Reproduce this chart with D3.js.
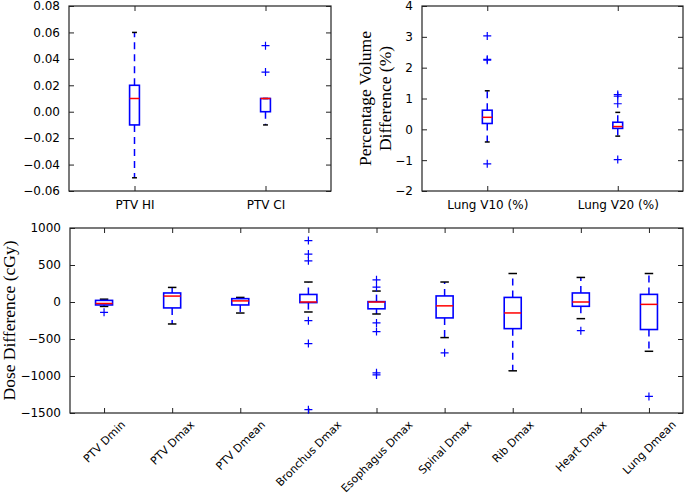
<!DOCTYPE html>
<html><head><meta charset="utf-8">
<script src="https://cdn.jsdelivr.net/npm/d3@7"></script>
<style>
html,body{margin:0;padding:0;background:#fff;}
svg{display:block;}
.tick text{font-family:"DejaVu Sans",sans-serif;}
</style>
</head><body>
<svg id="chart" width="685" height="502"></svg>
<script>
// ---------- DATA ----------
// Panel A (top-left)
const catsA = ["PTV HI", "PTV CI"];
const q1A = [-0.01, 0.0];
const medA = [0.01, 0.01];
const q3A = [0.02, 0.01];
const loA = [-0.05, -0.01];
const hiA = [0.06, 0.01];
const fliersA = [[], [0.03, 0.05]];
const ticksA = [-0.06, -0.04, -0.02, 0.0, 0.02, 0.04, 0.06, 0.08];

// Panel B (top-right)
const catsB = ["Lung V10 (%)", "Lung V20 (%)"];
const q1B = [0.19, 0.03];
const medB = [0.39, 0.09];
const q3B = [0.62, 0.23];
const loB = [-0.41, -0.22];
const hiB = [1.25, 0.55];
const fliersB = [[3.03, 2.27, 2.24, -1.12], [1.13, 1.08, 0.83, -0.98]];
const ticksB = [-2, -1, 0, 1, 2, 3, 4];

// Panel C (bottom)
const catsC = ["PTV Dmin", "PTV Dmax", "PTV Dmean", "Bronchus Dmax", "Esophagus Dmax",
               "Spinal Dmax", "Rib Dmax", "Heart Dmax", "Lung Dmean"];
const q1C = [-40, -80, -40, -8, -92, -215, -360, -58, -372];
const medC = [-20, 80, 15, 0, 0, -52, -148, 0, -32];
const q3C = [22, 122, 45, 102, 5, 82, 62, 122, 103];
const loC = [-60, -297, -149, -135, -162, -481, -930, -225, -666];
const hiC = [38, 197, 62, 270, 148, 270, 385, 332, 385];
const fliersC = [[-140], [], [], [830, 647, 557, -252, -562, -1455],
                 [300, 200, -283, -400, -957, -985], [-687], [], [-387], [-1276]];
const ticksC = [-1500, -1000, -500, 0, 500, 1000];

// ---------- DRAW ----------
const svg = d3.select("#chart");
const BLUE = "#0000ff", RED = "#ff0000";

function panel(o) {
  const n = o.cats.length;
  const x = d3.scaleLinear().domain([0.5, n + 0.5]).range([o.x0, o.x1]);
  const y = d3.scaleLinear().domain(o.domain).range([o.y1, o.y0]);
  const g = svg.append("g");
  const pos = d3.range(1, n + 1);
  const tickLen = 5;

  // axes (ticks inward on all four sides)
  const yl = g.append("g").attr("transform", `translate(${o.x0},0)`)
    .call(d3.axisLeft(y).tickValues(o.ticks).tickFormat(o.fmt).tickSizeInner(-tickLen).tickSizeOuter(0).tickPadding(tickLen + 4));
  const yr = g.append("g").attr("transform", `translate(${o.x1},0)`)
    .call(d3.axisRight(y).tickValues(o.ticks).tickFormat("").tickSizeInner(-tickLen).tickSizeOuter(0));
  const xb = g.append("g").attr("transform", `translate(0,${o.y1})`)
    .call(d3.axisBottom(x).tickValues(pos).tickFormat(i => o.cats[i - 1]).tickSizeInner(-tickLen).tickSizeOuter(0).tickPadding(tickLen + 4));
  const xt = g.append("g").attr("transform", `translate(0,${o.y0})`)
    .call(d3.axisTop(x).tickValues(pos).tickFormat("").tickSizeInner(-tickLen).tickSizeOuter(0));
  [yl, yr, xb, xt].forEach(a => {
    a.select(".domain").remove();
    a.selectAll(".tick line").attr("stroke", "#222").attr("stroke-width", 1);
  });
  yl.selectAll(".tick text").attr("font-size", 12).attr("fill", "#000");
  xb.selectAll(".tick text").attr("font-size", o.xFont).attr("fill", "#000");

  if (o.rotate) {
    xb.selectAll(".tick text").each(function () {
      const t = d3.select(this);
      const w = this.getComputedTextLength();
      const h = o.xFont * 1.0;
      const ext = (w + h) * Math.SQRT1_2;
      t.attr("y", null).attr("dy", null)
        .attr("text-anchor", "middle")
        .attr("dominant-baseline", "central")
        .attr("transform", `translate(0,${6 + ext / 2}) rotate(-45)`);
    });
  }

  // frame
  g.append("rect").attr("x", o.x0).attr("y", o.y0)
    .attr("width", o.x1 - o.x0).attr("height", o.y1 - o.y0)
    .attr("fill", "none").attr("stroke", "#222").attr("stroke-width", 1.2);

  const bw = x(1 + o.width / 2) - x(1);
  const cw = bw / 2;
  const marks = g.append("g");
  pos.forEach((p, i) => {
    const cx = x(p);
    // whiskers
    marks.append("line").attr("x1", cx).attr("x2", cx).attr("y1", y(o.q3[i])).attr("y2", y(o.hi[i]))
      .attr("stroke", BLUE).attr("stroke-width", 1.5).attr("stroke-dasharray", "7,5");
    marks.append("line").attr("x1", cx).attr("x2", cx).attr("y1", y(o.q1[i])).attr("y2", y(o.lo[i]))
      .attr("stroke", BLUE).attr("stroke-width", 1.5).attr("stroke-dasharray", "7,5");
    // caps
    [o.hi[i], o.lo[i]].forEach(v => {
      marks.append("line").attr("x1", cx - cw / 2).attr("x2", cx + cw / 2).attr("y1", y(v)).attr("y2", y(v))
        .attr("stroke", "#000").attr("stroke-width", 1.5);
    });
    // box
    marks.append("rect").attr("x", cx - bw / 2).attr("y", y(o.q3[i]))
      .attr("width", bw).attr("height", Math.max(0, y(o.q1[i]) - y(o.q3[i])))
      .attr("fill", "none").attr("stroke", BLUE).attr("stroke-width", 1.6);
    // median
    marks.append("line").attr("x1", cx - bw / 2).attr("x2", cx + bw / 2).attr("y1", y(o.med[i])).attr("y2", y(o.med[i]))
      .attr("stroke", RED).attr("stroke-width", 1.5);
    // fliers
    o.fliers[i].forEach(v => {
      const fy = y(v), s = 4;
      marks.append("path").attr("d", `M${cx - s},${fy}H${cx + s}M${cx},${fy - s}V${fy + s}`)
        .attr("stroke", BLUE).attr("stroke-width", 1.2).attr("fill", "none");
    });
  });

  // y label
  if (o.ylabel) {
    const lines = o.ylabel;
    const lab = g.append("text")
      .attr("transform", `translate(${o.labelX},${(o.y0 + o.y1) / 2}) rotate(-90)`)
      .attr("text-anchor", "middle")
      .attr("font-family", "'Liberation Serif','Times New Roman',serif")
      .attr("font-size", 17.5).attr("fill", "#000");
    lines.forEach((s, k) => {
      lab.append("tspan").attr("x", 0).attr("y", (k - (lines.length - 1) / 2) * 20)
        .attr("dominant-baseline", "central").text(s);
    });
  }
}

const fmt2 = d3.format(".2f");
const fmt0 = d3.format("d");

panel({cats: catsA, q1: q1A, med: medA, q3: q3A, lo: loA, hi: hiA, fliers: fliersA,
  ticks: ticksA, fmt: fmt2, domain: [-0.06, 0.08], x0: 69, x1: 331, y0: 6, y1: 191,
  width: 0.15, xFont: 12, rotate: false});

panel({cats: catsB, q1: q1B, med: medB, q3: q3B, lo: loB, hi: hiB, fliers: fliersB,
  ticks: ticksB, fmt: fmt0, domain: [-2, 4], x0: 422, x1: 683, y0: 6, y1: 191,
  width: 0.15, xFont: 12, rotate: false,
  ylabel: ["Percentage Volume", "Difference (%)"], labelX: 375});

panel({cats: catsC, q1: q1C, med: medC, q3: q3C, lo: loC, hi: hiC, fliers: fliersC,
  ticks: ticksC, fmt: fmt0, domain: [-1500, 1000], x0: 70, x1: 683, y0: 228, y1: 413,
  width: 0.5, xFont: 11, rotate: true,
  ylabel: ["Dose Difference (cGy)"], labelX: 9});
</script>
</body></html>
